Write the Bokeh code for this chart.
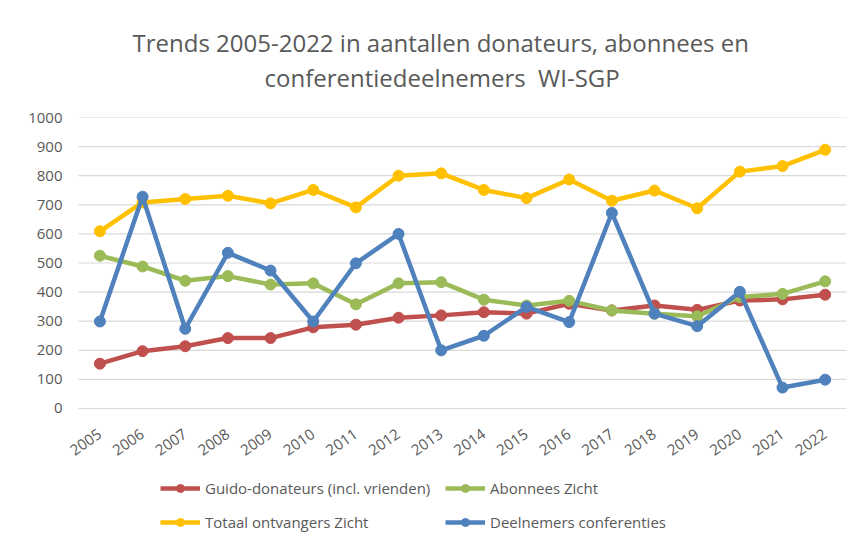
from bokeh.plotting import figure
from bokeh.models import Legend, LegendItem, Title, FixedTicker, Range1d
from bokeh.embed import file_html
from bokeh.resources import INLINE

years = list(range(2005, 2023))
guido = [154, 197, 214, 242, 242, 279, 288, 312, 320, 331, 326, 360, 337, 354, 339, 371, 375, 391]
abonnees = [525, 488, 439, 455, 426, 430, 358, 430, 434, 374, 354, 370, 337, 326, 317, 383, 394, 437]
totaal = [609, 708, 720, 731, 705, 751, 691, 800, 808, 751, 723, 787, 714, 749, 688, 814, 833, 889]
deelnemers = [299, 728, 274, 535, 474, 299, 499, 600, 200, 250, 349, 297, 672, 326, 283, 401, 72, 99]
y_ticks = list(range(0, 1001, 100))
title_lines = ["Trends 2005-2022 in aantallen donateurs, abonnees en",
               "conferentiedeelnemers\u00a0 WI-SGP"]

FONT = "Open Sans"
TXT = "#595959"
GRID = "#d9d9d9"

# category band edges of the plot area (half a year either side)
X_LO, X_HI = years[0] - 0.5, years[-1] + 0.5

# the frame reaches down to the bottom so the legend (inside it) is not clipped;
# the value axis runs 0..1000 and the year axis sits at y = 0
p = figure(width=850, height=542, output_backend="svg", toolbar_location=None,
           x_range=Range1d(X_LO - 0.33, X_HI), y_range=Range1d(-460.5, 1000),
           min_border_left=64, min_border_right=4, min_border_top=117, min_border_bottom=0)
p.outline_line_color = None

# horizontal gridlines limited to the plot area
p.segment(x0=[X_LO] * len(y_ticks), y0=y_ticks, x1=[X_HI] * len(y_ticks), y1=y_ticks,
          line_color=GRID, line_width=1.2)
p.xgrid.grid_line_color = None
p.ygrid.grid_line_color = None

p.yaxis.ticker = FixedTicker(ticks=y_ticks)
p.xaxis.ticker = FixedTicker(ticks=years)
p.xaxis.fixed_location = 0
for ax in (p.xaxis, p.yaxis):
    ax.axis_line_color = None
    ax.major_tick_line_color = None
    ax.minor_tick_line_color = None
    ax.major_label_text_color = TXT
    ax.major_label_text_font = FONT
    ax.major_label_text_font_size = "15px"
p.yaxis.major_tick_out = 0
p.yaxis.major_label_standoff = 2
p.xaxis.major_label_standoff = 18
p.xaxis.major_label_orientation = 0.61

series = [
    ("Guido-donateurs (incl. vrienden)", guido, "#C0504D"),
    ("Abonnees Zicht", abonnees, "#9BBB59"),
    ("Totaal ontvangers Zicht", totaal, "#FFC000"),
    ("Deelnemers conferenties", deelnemers, "#4F81BD"),
]
items = {}
for name, vals, col in series:
    r1 = p.line(years, vals, line_color=col, line_width=4.5, line_join="round")
    r2 = p.scatter(years, vals, size=11, fill_color=col, line_color=col)
    items[name] = LegendItem(label=name, renderers=[r1, r2])

# column-major fill: column 1 = Guido, Totaal; column 2 = Abonnees, Deelnemers
order = ["Guido-donateurs (incl. vrienden)", "Totaal ontvangers Zicht",
         "Abonnees Zicht", "Deelnemers conferenties"]
legend = Legend(items=[items[k] for k in order], ncols=2, location=(96, 10),
                padding=0, margin=0, glyph_width=40, glyph_height=20, label_height=20,
                label_standoff=5, label_width=226, spacing=14, border_line_color=None,
                background_fill_alpha=0, label_text_font=FONT, label_text_font_size="15px",
                label_text_color=TXT)
p.add_layout(legend, "center")

# titles: spacer nearest the frame, then line 2, then line 1
p.add_layout(Title(text=" ", text_font_size="2px", standoff=20), "above")
p.add_layout(Title(text=title_lines[1], align="left", offset=200, standoff=0,
                   text_font=FONT, text_font_size="24px", text_font_style="normal",
                   text_color=TXT), "above")
p.add_layout(Title(text=title_lines[0], align="left", offset=68, standoff=0,
                   text_font=FONT, text_font_size="24px", text_font_style="normal",
                   text_color=TXT), "above")

open("out.html", "w").write(file_html(p, INLINE))
